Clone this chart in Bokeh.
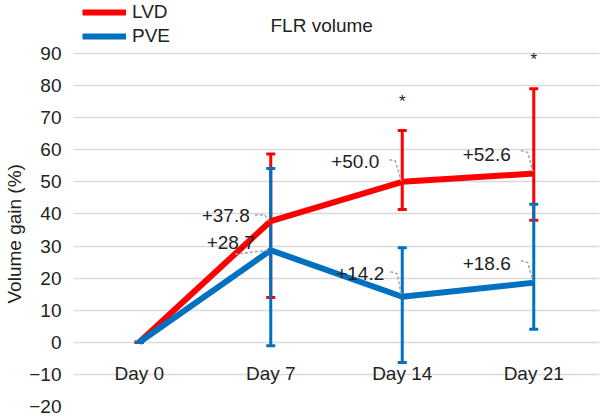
import math
from bokeh.plotting import figure
from bokeh.models import (ColumnDataSource, Range1d, FixedTicker, Label, Legend,
                          LegendItem, Title)
from bokeh.embed import file_html
from bokeh.resources import INLINE
from bokeh.core.properties import value

# ---------------- data ----------------
days = ["Day 0", "Day 7", "Day 14", "Day 21"]
series_names = ["LVD", "PVE"]
lvd_mean = [0.0, 37.8, 50.0, 52.6]
lvd_upper = [0.0, 58.7, 66.0, 79.0]
lvd_lower = [0.0, 14.0, 41.4, 38.0]
pve_mean = [0.0, 28.7, 14.2, 18.6]
pve_upper = [0.0, 54.2, 29.5, 43.0]
pve_lower = [0.0, -1.1, -6.3, 4.1]
lvd_sig = ["", "", "*", "*"]
y_ticks = [-20, -10, 0, 10, 20, 30, 40, 50, 60, 70, 80, 90]
title_text = "FLR volume"
y_label_text = "Volume gain (%)"

# ---------------- style ----------------
RED = "#ff0000"
BLUE = "#0070c0"
GRID = "#d9d9d9"
TEXT = "#222222"
LEADER = "#a6a6a6"
FONT = "Liberation Sans"
FS = "19px"

W, H = 608, 417
ML, MR, MT, MB = 69, 9, 0, 11
GRID_TOP = 53                      # px from top where the highest gridline sits
FRAME_W = W - ML - MR
FRAME_H = H - MT - MB
X0, X1 = -0.5, len(days) - 0.5
DX = (X1 - X0) / FRAME_W           # data units per px
DY = (y_ticks[-1] - y_ticks[0]) / (FRAME_H - GRID_TOP)
Y0 = y_ticks[0]
Y1 = y_ticks[-1] + GRID_TOP * DY

xi = list(range(len(days)))

p = figure(width=W, height=H, output_backend="svg", toolbar_location=None,
           x_range=Range1d(X0, X1), y_range=Range1d(Y0, Y1),
           min_border_left=ML, min_border_right=MR, min_border_top=MT,
           min_border_bottom=MB, background_fill_color="white",
           border_fill_color="white")
p.outline_line_color = None

# axes
p.yaxis.ticker = FixedTicker(ticks=y_ticks)
p.yaxis.major_label_overrides = {t: (f"\u2212{abs(t)}" if t < 0 else str(t)) for t in y_ticks}
p.yaxis.axis_line_color = None
p.yaxis.major_tick_line_color = None
p.yaxis.minor_tick_line_color = None
p.yaxis.major_tick_out = 0
p.yaxis.major_tick_in = 0
p.yaxis.major_label_standoff = 12
p.yaxis.major_label_text_font = FONT
p.yaxis.major_label_text_font_size = FS
p.yaxis.major_label_text_color = TEXT

p.xaxis.ticker = FixedTicker(ticks=xi)
p.xaxis.major_label_overrides = {i: d for i, d in enumerate(days)}
p.xaxis.fixed_location = 0
p.xaxis.axis_line_color = None
p.xaxis.major_tick_line_color = None
p.xaxis.minor_tick_line_color = None
p.xaxis.major_tick_out = 0
p.xaxis.major_tick_in = 0
p.xaxis.major_label_standoff = 21
p.xaxis.major_label_text_font = FONT
p.xaxis.major_label_text_font_size = FS
p.xaxis.major_label_text_color = TEXT

p.xgrid.grid_line_color = None
p.ygrid.ticker = FixedTicker(ticks=y_ticks)
p.ygrid.grid_line_color = GRID
p.ygrid.grid_line_width = 1.5

# y-axis title on the left side
p.add_layout(Title(text=y_label_text, align="left", offset=103, standoff=3,
                   text_font=FONT, text_font_size=FS, text_font_style="normal",
                   text_color=TEXT), "left")

# error bars
def error_bars(upper, lower, color):
    p.segment(x0=xi, y0=lower, x1=xi, y1=upper, line_color=color, line_width=3)
    p.scatter(x=xi + xi, y=list(upper) + list(lower), marker="dash", size=9,
              line_color=color, line_width=3)

error_bars(lvd_upper, lvd_lower, RED)
error_bars(pve_upper, pve_lower, BLUE)

# lines
r_lvd = p.line(xi, lvd_mean, line_color=RED, line_width=6, line_join="round")
r_pve = p.line(xi, pve_mean, line_color=BLUE, line_width=6, line_join="round")

# data labels with leader lines (offsets in screen px relative to point)
lvd_lab_off = [None, (-21, -6), (-23, -20), (-23, -19)]
pve_lab_off = [None, (-16, -8), (-18, -23), (-23, -19)]
lvd_leader = [None, [(-16, -6), (-6, -6), (-2, 0)],
              [(-13, -22), (-7, -21), (-1, -1)],
              [(-13, -23), (-6, -21), (-1, -2)]]
pve_leader = [None, [(-36, 4), (-2, 0)],
              [(-12, -25), (-5, -23), (-1, -2)],
              [(-13, -22), (-6, -20), (-1, -2)]]

def labels(mean, offs, leaders):
    lx, ly, lt, ox, oy = [], [], [], [], []
    mxs, mys = [], []
    for i, m in enumerate(mean):
        if offs[i] is None:
            continue
        lx.append(i); ly.append(m); lt.append(f"+{m:.1f}")
        ox.append(offs[i][0]); oy.append(offs[i][1])
        mxs.append([i + dx * DX for dx, dy in leaders[i]])
        mys.append([m - dy * DY for dx, dy in leaders[i]])
    p.multi_line(xs=mxs, ys=mys, line_color=LEADER, line_width=1.5, line_dash="3 2")
    src = ColumnDataSource(dict(x=lx, y=ly, text=lt, xo=ox, yo=oy))
    p.text(x="x", y="y", text="text", x_offset="xo", y_offset="yo", source=src,
           text_align="right", text_baseline="middle", text_font=value(FONT),
           text_font_size=FS, text_color=TEXT)

labels(lvd_mean, lvd_lab_off, lvd_leader)
labels(pve_mean, pve_lab_off, pve_leader)

# significance stars
sx = [i for i, s in enumerate(lvd_sig) if s]
sy = [lvd_upper[i] for i in sx]
st = [lvd_sig[i] for i in sx]
p.text(x=sx, y=sy, text=st, y_offset=-29, text_align="center",
       text_baseline="alphabetic", text_font=value(FONT), text_font_size="17px",
       text_color=TEXT)

# chart title (inside the frame area above the top gridline)
p.add_layout(Label(x=X0, y=y_ticks[-1] + 28.5 * DY, x_offset=197, text=title_text,
                   text_align="left", text_baseline="middle", text_font=FONT,
                   text_font_size=FS, text_color=TEXT))

# legend
legend = Legend(items=[LegendItem(label=series_names[0], renderers=[r_lvd]),
                       LegendItem(label=series_names[1], renderers=[r_pve])],
                location=(9, FRAME_H - 48), padding=0, margin=0, spacing=0,
                glyph_width=44, glyph_height=24, label_height=24, label_standoff=6,
                label_text_font=FONT, label_text_font_size=FS,
                label_text_color=TEXT, background_fill_alpha=0,
                border_line_alpha=0)
p.add_layout(legend)

open("out.html", "w").write(file_html(p, INLINE))
